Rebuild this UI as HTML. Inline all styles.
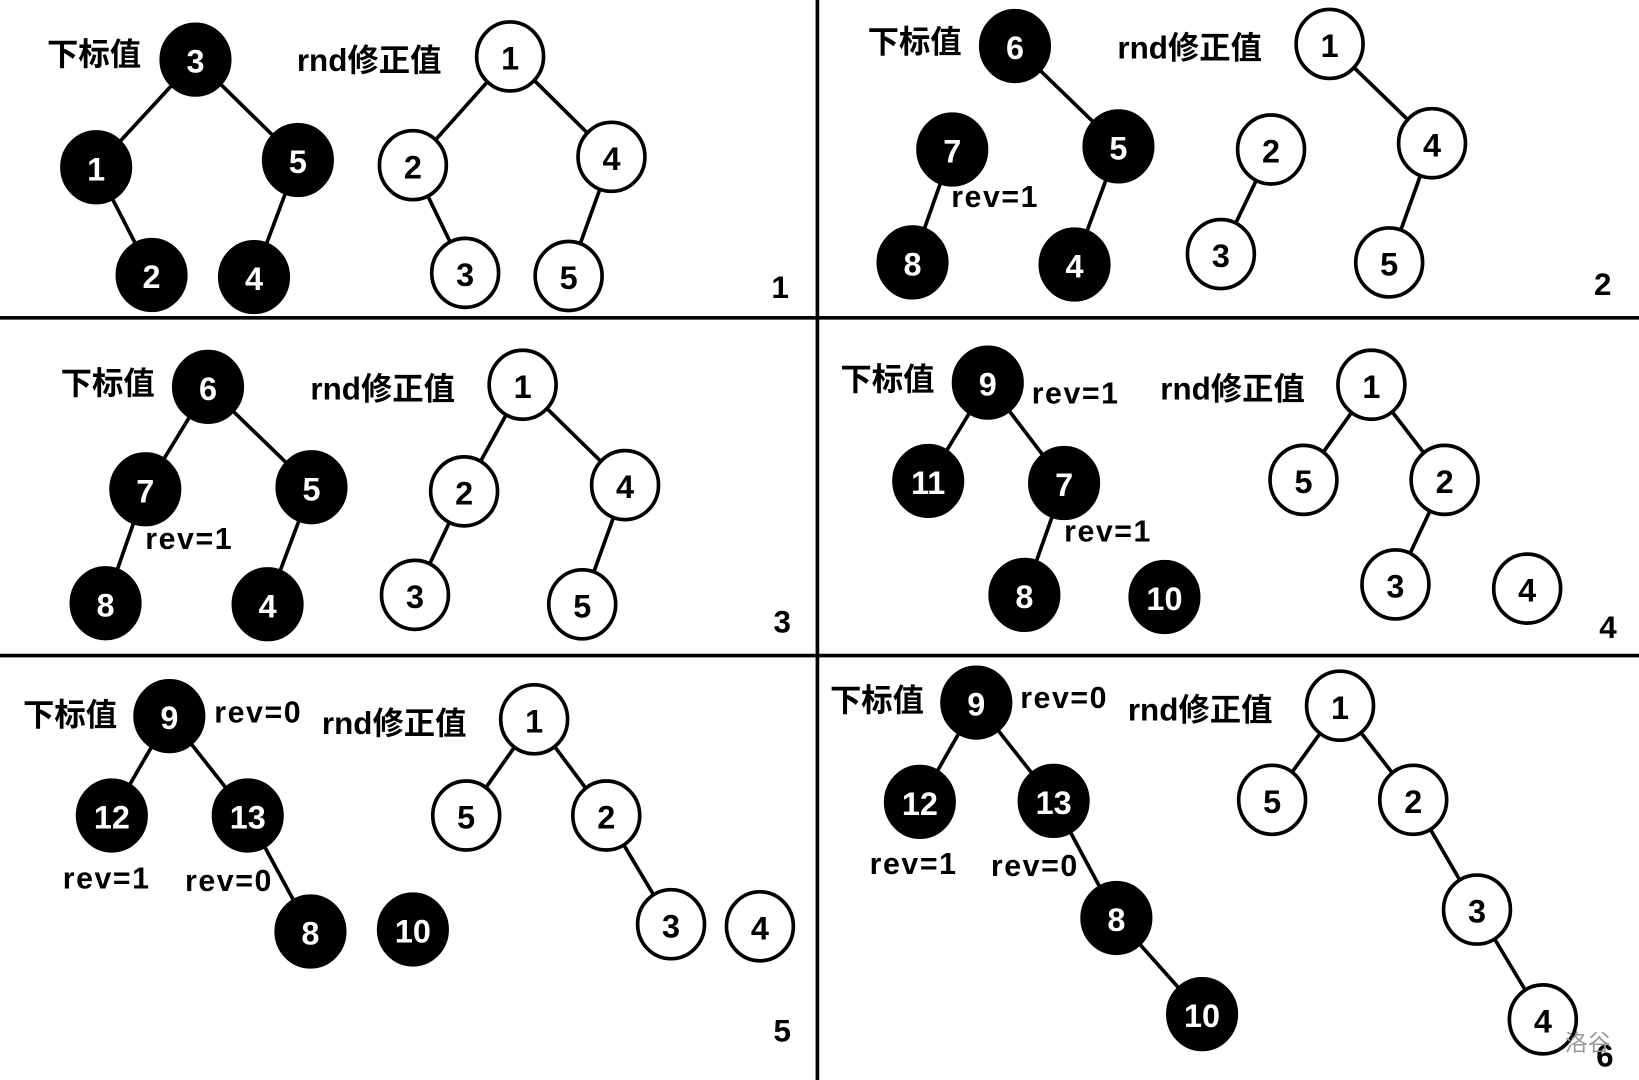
<!DOCTYPE html>
<html><head><meta charset="utf-8"><style>
html,body{margin:0;padding:0;background:#fff;}
svg{display:block}
text{font-family:"Liberation Sans","Noto Sans CJK SC",sans-serif;font-weight:bold;}
.b{fill:#000;stroke:#000;stroke-width:3}
.w{fill:#fff;stroke:#000;stroke-width:3.5}
.tb{fill:#fff;font-size:31px;text-anchor:middle;dominant-baseline:central}
.tw{fill:#000;font-size:31px;text-anchor:middle;dominant-baseline:central}
.l{font-size:30px;fill:#000}
.r{font-size:29px;fill:#000;letter-spacing:1.5px}
.e{stroke:#000;stroke-width:3.5}
</style></head><body>
<svg width="1639" height="1080" viewBox="0 0 1568 1033" preserveAspectRatio="none">
<rect width="1568" height="1033" fill="#fff"/>
<line x1="782" y1="0" x2="782" y2="1033" stroke="#000" stroke-width="3.5"/>
<line x1="0" y1="304" x2="1568" y2="304" stroke="#000" stroke-width="3.5"/>
<line x1="0" y1="627" x2="1568" y2="627" stroke="#000" stroke-width="3.5"/>
<g class="e">
<line x1="187" y1="57" x2="92" y2="160"/><line x1="187" y1="57" x2="285" y2="153"/>
<line x1="92" y1="160" x2="145" y2="263"/><line x1="285" y1="153" x2="243" y2="265"/>
<line x1="488" y1="54" x2="395" y2="158"/><line x1="488" y1="54" x2="585" y2="150"/>
<line x1="395" y1="158" x2="445" y2="261"/><line x1="585" y1="150" x2="544" y2="264"/>
<line x1="971" y1="44" x2="1070" y2="140"/><line x1="1070" y1="140" x2="1028" y2="253"/>
<line x1="911" y1="143" x2="873" y2="251"/>
<line x1="1272" y1="42" x2="1370" y2="137"/><line x1="1216" y1="143" x2="1168" y2="243"/>
<line x1="1370" y1="137" x2="1329" y2="251"/>
<line x1="199" y1="370" x2="139" y2="468"/><line x1="199" y1="370" x2="298" y2="466"/>
<line x1="139" y1="468" x2="101" y2="577"/><line x1="298" y1="466" x2="256" y2="578"/>
<line x1="500" y1="368" x2="444" y2="470"/><line x1="500" y1="368" x2="598" y2="464"/>
<line x1="444" y1="470" x2="397" y2="569"/><line x1="598" y1="464" x2="557" y2="578"/>
<line x1="945" y1="366" x2="888" y2="460"/><line x1="945" y1="366" x2="1018" y2="462"/>
<line x1="1018" y1="462" x2="980" y2="569"/>
<line x1="1312" y1="368" x2="1247" y2="459"/><line x1="1312" y1="368" x2="1382" y2="459"/>
<line x1="1382" y1="459" x2="1335" y2="559"/>
<line x1="162" y1="685" x2="107" y2="780"/><line x1="162" y1="685" x2="237" y2="780"/>
<line x1="237" y1="780" x2="297" y2="891"/>
<line x1="511" y1="688" x2="446" y2="780"/><line x1="511" y1="688" x2="580" y2="780"/>
<line x1="580" y1="780" x2="642" y2="884"/>
<line x1="934" y1="672" x2="880" y2="767"/><line x1="934" y1="672" x2="1008" y2="766"/>
<line x1="1008" y1="766" x2="1068" y2="878"/><line x1="1068" y1="878" x2="1150" y2="970"/>
<line x1="1282" y1="675" x2="1217" y2="765"/><line x1="1282" y1="675" x2="1352" y2="765"/>
<line x1="1352" y1="765" x2="1413" y2="870"/><line x1="1413" y1="870" x2="1476" y2="975"/>
</g>
<g class="b">
<ellipse cx="187" cy="57" rx="33" ry="34"/><ellipse cx="92" cy="160" rx="33" ry="34"/><ellipse cx="285" cy="153" rx="33" ry="34"/><ellipse cx="145" cy="263" rx="33" ry="34"/><ellipse cx="243" cy="265" rx="33" ry="34"/>
<ellipse cx="971" cy="44" rx="33" ry="34"/><ellipse cx="1070" cy="140" rx="33" ry="34"/><ellipse cx="911" cy="143" rx="33" ry="34"/><ellipse cx="873" cy="251" rx="33" ry="34"/><ellipse cx="1028" cy="253" rx="33" ry="34"/>
<ellipse cx="199" cy="370" rx="33" ry="34"/><ellipse cx="139" cy="468" rx="33" ry="34"/><ellipse cx="298" cy="466" rx="33" ry="34"/><ellipse cx="101" cy="577" rx="33" ry="34"/><ellipse cx="256" cy="578" rx="33" ry="34"/>
<ellipse cx="945" cy="366" rx="33" ry="34"/><ellipse cx="888" cy="460" rx="33" ry="34"/><ellipse cx="1018" cy="462" rx="33" ry="34"/><ellipse cx="980" cy="569" rx="33" ry="34"/><ellipse cx="1114" cy="571" rx="33" ry="34"/>
<ellipse cx="162" cy="685" rx="33" ry="34"/><ellipse cx="107" cy="780" rx="33" ry="34"/><ellipse cx="237" cy="780" rx="33" ry="34"/><ellipse cx="297" cy="891" rx="33" ry="34"/><ellipse cx="395" cy="889" rx="33" ry="34"/>
<ellipse cx="934" cy="672" rx="33" ry="34"/><ellipse cx="880" cy="767" rx="33" ry="34"/><ellipse cx="1008" cy="766" rx="33" ry="34"/><ellipse cx="1068" cy="878" rx="33" ry="34"/><ellipse cx="1150" cy="970" rx="33" ry="34"/>
</g>
<g class="w">
<ellipse cx="488" cy="54" rx="32" ry="33"/><ellipse cx="395" cy="158" rx="32" ry="33"/><ellipse cx="585" cy="150" rx="32" ry="33"/><ellipse cx="445" cy="261" rx="32" ry="33"/><ellipse cx="544" cy="264" rx="32" ry="33"/>
<ellipse cx="1272" cy="42" rx="32" ry="33"/><ellipse cx="1216" cy="143" rx="32" ry="33"/><ellipse cx="1370" cy="137" rx="32" ry="33"/><ellipse cx="1168" cy="243" rx="32" ry="33"/><ellipse cx="1329" cy="251" rx="32" ry="33"/>
<ellipse cx="500" cy="368" rx="32" ry="33"/><ellipse cx="444" cy="470" rx="32" ry="33"/><ellipse cx="598" cy="464" rx="32" ry="33"/><ellipse cx="397" cy="569" rx="32" ry="33"/><ellipse cx="557" cy="578" rx="32" ry="33"/>
<ellipse cx="1312" cy="368" rx="32" ry="33"/><ellipse cx="1247" cy="459" rx="32" ry="33"/><ellipse cx="1382" cy="459" rx="32" ry="33"/><ellipse cx="1335" cy="559" rx="32" ry="33"/><ellipse cx="1461" cy="563" rx="32" ry="33"/>
<ellipse cx="511" cy="688" rx="32" ry="33"/><ellipse cx="446" cy="780" rx="32" ry="33"/><ellipse cx="580" cy="780" rx="32" ry="33"/><ellipse cx="642" cy="884" rx="32" ry="33"/><ellipse cx="727" cy="886" rx="32" ry="33"/>
<ellipse cx="1282" cy="675" rx="32" ry="33"/><ellipse cx="1217" cy="765" rx="32" ry="33"/><ellipse cx="1352" cy="765" rx="32" ry="33"/><ellipse cx="1413" cy="870" rx="32" ry="33"/><ellipse cx="1476" cy="975" rx="32" ry="33"/>
</g>
<g class="tb">
<text x="187" y="59">3</text><text x="92" y="162">1</text><text x="285" y="155">5</text><text x="145" y="265">2</text><text x="243" y="267">4</text>
<text x="971" y="46">6</text><text x="1070" y="142">5</text><text x="911" y="145">7</text><text x="873" y="253">8</text><text x="1028" y="255">4</text>
<text x="199" y="372">6</text><text x="139" y="470">7</text><text x="298" y="468">5</text><text x="101" y="579">8</text><text x="256" y="580">4</text>
<text x="945" y="368">9</text><text x="888" y="462">11</text><text x="1018" y="464">7</text><text x="980" y="571">8</text><text x="1114" y="573">10</text>
<text x="162" y="687">9</text><text x="107" y="782">12</text><text x="237" y="782">13</text><text x="297" y="893">8</text><text x="395" y="891">10</text>
<text x="934" y="674">9</text><text x="880" y="769">12</text><text x="1008" y="768">13</text><text x="1068" y="880">8</text><text x="1150" y="972">10</text>
</g>
<g class="tw">
<text x="488" y="56">1</text><text x="395" y="160">2</text><text x="585" y="152">4</text><text x="445" y="263">3</text><text x="544" y="266">5</text>
<text x="1272" y="44">1</text><text x="1216" y="145">2</text><text x="1370" y="139">4</text><text x="1168" y="245">3</text><text x="1329" y="253">5</text>
<text x="500" y="370">1</text><text x="444" y="472">2</text><text x="598" y="466">4</text><text x="397" y="571">3</text><text x="557" y="580">5</text>
<text x="1312" y="370">1</text><text x="1247" y="461">5</text><text x="1382" y="461">2</text><text x="1335" y="561">3</text><text x="1461" y="565">4</text>
<text x="511" y="690">1</text><text x="446" y="782">5</text><text x="580" y="782">2</text><text x="642" y="886">3</text><text x="727" y="888">4</text>
<text x="1282" y="677">1</text><text x="1217" y="767">5</text><text x="1352" y="767">2</text><text x="1413" y="872">3</text><text x="1476" y="977">4</text>
</g>
<g class="l">
<text x="45" y="62">下标值</text><text x="284" y="68">rnd修正值</text><text x="738" y="285">1</text>
<text x="830" y="50">下标值</text><text x="1069" y="56">rnd修正值</text><text x="1525" y="282">2</text>
<text x="58" y="377">下标值</text><text x="297" y="382">rnd修正值</text><text x="740" y="605">3</text>
<text x="804" y="373">下标值</text><text x="1110" y="382">rnd修正值</text><text x="1530" y="610">4</text>
<text x="22" y="694">下标值</text><text x="308" y="702">rnd修正值</text><text x="740" y="996">5</text>
<text x="794" y="680">下标值</text><text x="1079" y="689">rnd修正值</text><text x="1527" y="1020">6</text>
</g>
<g class="r">
<text x="910" y="198">rev=1</text>
<text x="139" y="525">rev=1</text>
<text x="987" y="386">rev=1</text><text x="1018" y="518">rev=1</text>
<text x="205" y="691">rev=0</text><text x="60" y="850">rev=1</text><text x="177" y="852">rev=0</text>
<text x="976" y="677">rev=0</text><text x="832" y="836">rev=1</text><text x="948" y="838">rev=0</text>
</g>
<text x="1497" y="1005" style="font-size:22px;font-weight:normal;fill:#999">洛谷</text>
</svg>
</body></html>
